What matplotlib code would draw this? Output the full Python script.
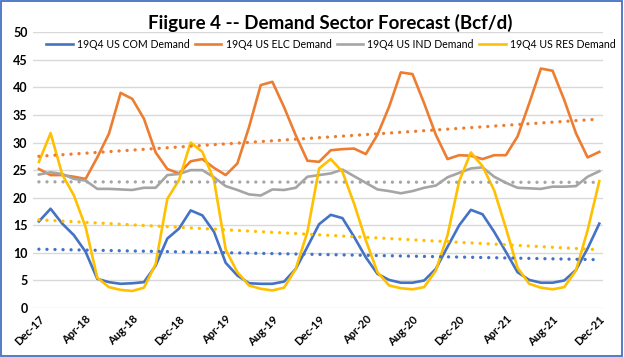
import numpy as np
import pandas as pd
import matplotlib
matplotlib.use("Agg")
import matplotlib.pyplot as plt

# monthly dates Dec-17 .. Dec-21
months = pd.date_range("2017-12-01", "2021-12-01", freq="MS")

com = [15.7, 18.0, 15.3, 13.2, 10.2, 5.3, 4.7, 4.4, 4.5, 4.7, 7.7, 12.6,
       14.4, 17.7, 16.8, 13.8, 8.2, 5.9, 4.5, 4.4, 4.4, 4.8, 7.1, 11.1,
       15.2, 16.9, 16.3, 12.9, 9.2, 6.2, 5.1, 4.6, 4.6, 5.0, 7.1, 11.1,
       15.0, 17.8, 17.0, 13.8, 10.2, 6.5, 5.1, 4.6, 4.6, 5.0, 6.9, 10.8,
       15.3]
elc = [25.2, 24.1, 24.1, 23.8, 23.4, 27.3, 31.6, 39.0, 37.9, 34.3, 28.2, 25.2,
       24.4, 26.6, 27.0, 25.4, 24.1, 26.2, 32.8, 40.4, 41.0, 36.4, 31.3, 26.7,
       26.5, 28.6, 28.8, 28.9, 27.9, 31.4, 36.5, 42.7, 42.4, 37.1, 31.4, 27.0,
       27.7, 27.6, 27.0, 27.7, 27.7, 31.1, 37.1, 43.4, 43.0, 37.7, 31.7, 27.3,
       28.3]
ind = [24.2, 24.6, 24.3, 23.4, 23.1, 21.6, 21.6, 21.5, 21.4, 21.8, 21.8, 24.1,
       24.3, 25.0, 25.0, 23.7, 22.1, 21.4, 20.6, 20.4, 21.5, 21.4, 21.8, 23.8,
       24.1, 24.4, 25.1, 23.9, 22.7, 21.5, 21.2, 20.8, 21.2, 21.8, 22.2, 23.7,
       24.5, 25.3, 25.5, 23.8, 22.7, 21.8, 21.7, 21.6, 22.0, 22.0, 22.1, 23.8,
       24.8]
res = [26.5, 31.7, 24.2, 20.4, 14.7, 5.5, 3.8, 3.3, 3.1, 3.7, 8.0, 19.8,
       23.2, 30.0, 28.3, 23.2, 10.6, 6.5, 4.1, 3.5, 3.2, 3.7, 7.1, 13.8,
       25.3, 27.0, 24.7, 18.9, 12.3, 6.5, 4.1, 3.6, 3.4, 3.8, 6.8, 13.2,
       23.0, 28.2, 25.7, 21.3, 14.5, 7.3, 4.4, 3.7, 3.4, 3.8, 6.8, 14.1,
       23.0]

names = ["19Q4 US COM Demand", "19Q4 US ELC Demand",
         "19Q4 US IND Demand", "19Q4 US RES Demand"]
colors = ["#4472C4", "#ED7D31", "#A5A5A5", "#FFC000"]

plt.rcParams['font.family'] = ['Lato', 'DejaVu Sans']

fig = plt.figure(figsize=(6.24, 3.57), dpi=100)
ax = fig.add_axes([0.053, 0.137, 0.913, 0.773])

x = np.arange(len(months))
for vals, name, c in zip([com, elc, ind, res], names, colors):
    ax.plot(x, vals, color=c, lw=1.9, label=name, zorder=3)
for vals, c in zip([com, elc, ind, res], colors):
    # linear trendline, like Excel
    k, b = np.polyfit(x, vals, 1)
    ax.plot(x, k * x + b, color=c, lw=2.4, linestyle=(0, (0.01, 2.4)),
            dash_capstyle='round', zorder=4)

ax.set_ylim(0, 50)
ax.set_yticks(range(0, 51, 5))
ax.set_xlim(-0.5, 48.3)
ticks = x[::4]
ax.set_xticks(ticks)
ax.set_xticklabels([m.strftime("%b-%y") for m in months[::4]],
                   rotation=45, ha='right', rotation_mode='anchor',
                   fontsize=8, fontweight='bold')
for t in ax.get_yticklabels():
    t.set_fontsize(9)
    t.set_fontweight('bold')
ax.tick_params(length=0, pad=4)
ax.grid(axis='y', color='#D9D9D9', lw=1)
ax.set_axisbelow(True)
for s in ax.spines.values():
    s.set_visible(False)

fig.text(0.53, 0.935, "Fiigure 4 -- Demand Sector Forecast (Bcf/d)",
         ha='center', va='center', fontsize=13.5, fontweight='bold')
ax.legend(loc='center', bbox_to_anchor=(0.523, 0.955), ncol=4, frameon=False,
          fontsize=7.6, handlelength=2.5, columnspacing=0.5, handletextpad=0.4,
          borderaxespad=0)

fig.patches.append(plt.Rectangle((0.002, 0.003), 0.995, 0.993,
                                 transform=fig.transFigure, fill=False,
                                 edgecolor='#4472C4', lw=1.3))

plt.savefig("out.png", dpi=100)
